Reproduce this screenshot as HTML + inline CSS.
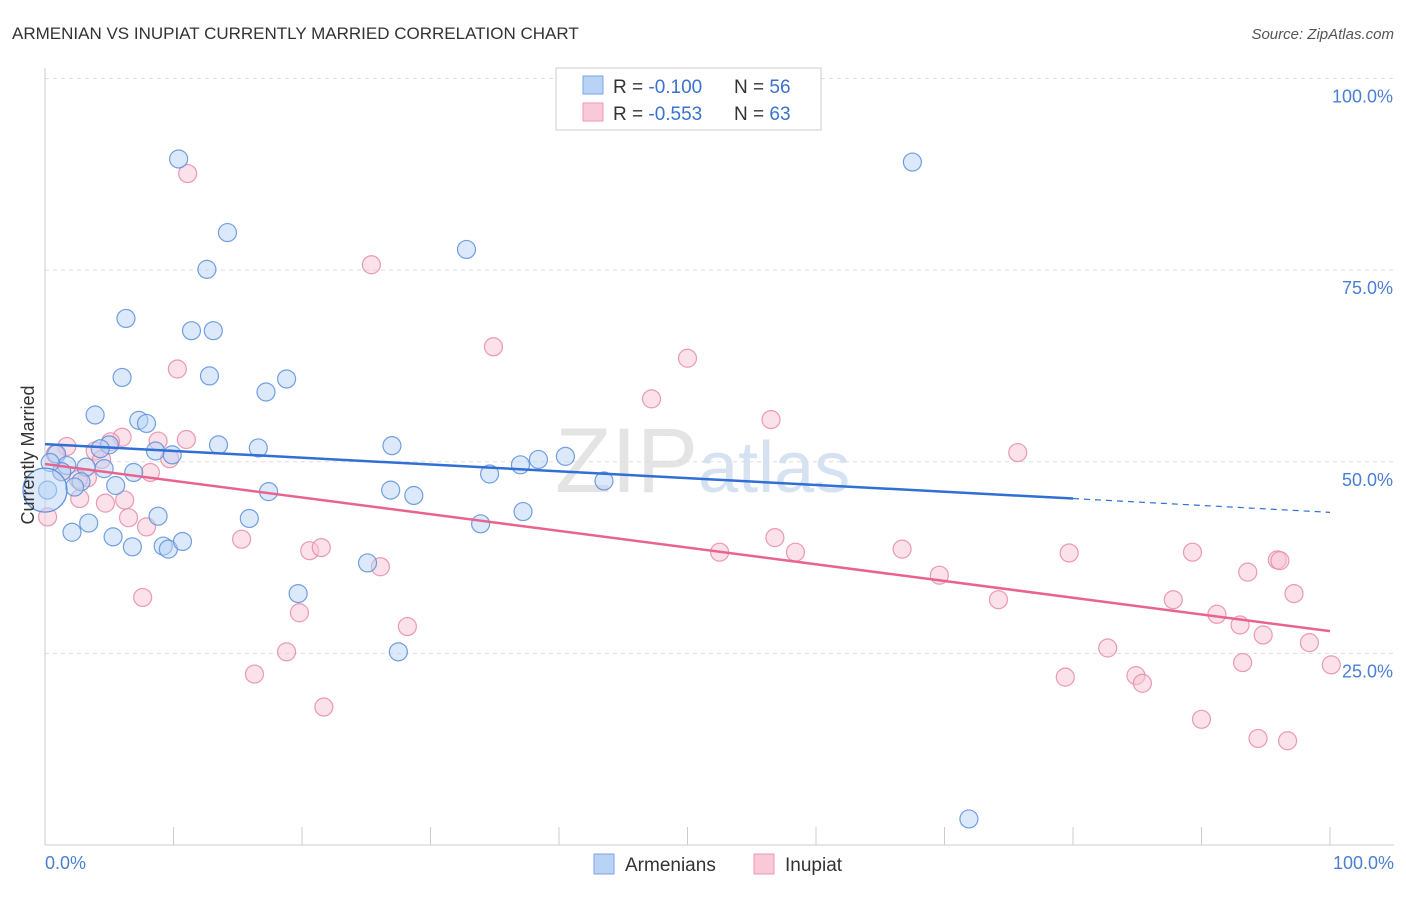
<!DOCTYPE html>
<html><head><meta charset="utf-8"><style>
body{margin:0;background:#fff;font-family:"Liberation Sans",sans-serif}
svg text{font-family:"Liberation Sans",sans-serif}
</style></head><body>
<svg id="c" width="1406" height="892" xmlns="http://www.w3.org/2000/svg">
<text x="12" y="39" font-size="17" fill="#333">ARMENIAN VS INUPIAT CURRENTLY MARRIED CORRELATION CHART</text>
<text x="1394" y="39" font-size="15" fill="#555" text-anchor="end" font-style="italic">Source: ZipAtlas.com</text>
<text x="555" y="492" font-size="92" fill="#e4e4e4" font-family="Liberation Serif">ZIP<tspan fill="#d6e2f2" font-family="Liberation Sans" font-size="72">atlas</tspan></text>
<g id="grid"></g>
<g id="axes"></g>
<g id="pts"></g>
<g id="trend"></g>
<text x="0" y="0" font-size="18" fill="#333" text-anchor="middle" transform="translate(34 455) rotate(-90)">Currently Married</text>
<text x="45" y="869" font-size="18" fill="#4a7fd4">0.0%</text>
<text x="1394" y="869" font-size="18" fill="#4a7fd4" text-anchor="end">100.0%</text>
<g>
<rect x="556" y="68" width="265" height="62" fill="#fff" stroke="#ccc"/>
<rect x="583" y="76" width="20" height="18" fill="#b8d3f5" stroke="#7aa5e0"/>
<rect x="583" y="103" width="20" height="18" fill="#f9c9d8" stroke="#ec9ab5"/>
<text x="613" y="93" font-size="19" fill="#333">R = <tspan fill="#3b72d0">-0.100</tspan><tspan x="734">N = </tspan><tspan fill="#3b72d0">56</tspan></text>
<text x="613" y="120" font-size="19" fill="#333">R = <tspan fill="#3b72d0">-0.553</tspan><tspan x="734">N = </tspan><tspan fill="#3b72d0">63</tspan></text>
</g>
<g>
<rect x="594" y="854" width="20" height="20" fill="#b8d3f5" stroke="#7aa5e0"/>
<text x="625" y="871" font-size="19" fill="#333">Armenians</text>
<rect x="754" y="854" width="20" height="20" fill="#f9c9d8" stroke="#ec9ab5"/>
<text x="785" y="871" font-size="19" fill="#333">Inupiat</text>
</g>
</svg>
<script>
const yTicks=[25,50,75,100];
const xTicks=[0,10,20,30,40,50,60,70,80,90,100];
const blueX=[10.4,67.5,14.2,12.6,32.8,6.3,11.4,13.1,6.0,12.8,18.8,17.2,3.9,7.3,7.9,13.5,16.6,27.0,8.6,9.9,5.0,4.3,0.9,1.7,3.2,1.3,4.6,6.9,2.8,2.3,5.5,34.6,37.0,38.4,40.5,43.5,17.4,26.9,28.7,15.9,8.8,3.4,2.1,33.9,37.2,5.3,6.8,9.2,9.6,10.7,25.1,19.7,27.5,71.9,0.4,0.2];
const blueY=[89.5,89.1,79.9,75.1,77.7,68.7,67.1,67.1,61.0,61.2,60.8,59.1,56.1,55.4,55.0,52.2,51.8,52.1,51.4,50.9,52.2,51.7,51.0,49.5,49.3,48.7,49.1,48.6,47.4,46.7,46.9,48.4,49.6,50.3,50.7,47.5,46.1,46.3,45.6,42.6,42.9,42.0,40.8,41.9,43.5,40.2,38.9,39.0,38.6,39.6,36.8,32.8,25.2,3.4,49.9,46.3];
const pinkX=[11.1,25.4,34.9,50.0,10.3,47.2,56.5,75.7,1.7,6.0,5.1,11.0,8.8,3.9,4.4,9.7,8.2,3.3,2.6,2.7,6.2,4.7,6.5,7.9,15.3,20.6,21.5,52.5,56.8,58.4,66.7,79.7,89.3,95.9,96.1,93.6,26.1,69.6,7.6,74.2,87.8,97.2,19.8,91.2,28.2,93.0,94.8,98.4,18.8,82.7,100.1,93.2,16.3,79.4,84.9,85.4,21.7,90.0,94.4,96.7,0.2,0.8,1.3];
const pinkY=[87.6,75.7,65.0,63.5,62.1,58.2,55.5,51.2,52.0,53.2,52.6,52.9,52.7,51.4,50.3,50.4,48.6,47.9,47.7,45.2,45.0,44.6,42.7,41.5,39.9,38.4,38.8,38.2,40.1,38.2,38.6,38.1,38.2,37.2,37.1,35.6,36.3,35.2,32.3,32.0,32.0,32.8,30.3,30.1,28.5,28.7,27.4,26.4,25.2,25.7,23.5,23.8,22.3,21.9,22.1,21.1,18.0,16.4,13.9,13.6,42.8,51.0,48.7];
const blueTrend=[52.3,45.2,43.4];
const pinkTrend=[49.7,27.9];
const X=v=>45+v*12.85, Y=v=>845-v*7.665;
const NS="http://www.w3.org/2000/svg";
function mk(p,t,a){const e=document.createElementNS(NS,t);for(const k in a)e.setAttribute(k,a[k]);document.getElementById(p).appendChild(e);return e;}
yTicks.forEach(t=>{
 const l=mk('grid','line',{x1:45,x2:1394,y1:Y(t),y2:Y(t),stroke:'#ddd','stroke-dasharray':'4,4'});
 
 
 const tx=mk('grid','text',{x:1393,y:Y(t)+24,'font-size':18,fill:'#4a7fd4','text-anchor':'end'});
 tx.textContent=t.toFixed(1)+'%';
 
 
});
mk('axes','line',{x1:45,x2:45,y1:68,y2:845,stroke:'#ccc'});
mk('axes','line',{x1:45,x2:1394,y1:845,y2:845,stroke:'#ccc'});
xTicks.forEach(t=>{
 const l=mk('axes','line',{x1:X(t),x2:X(t),y1:827,y2:845,stroke:'#ccc'});
 
 
});
function pts(xs,ys,f,s,name){xs.forEach((x,i)=>{
 const c=mk('pts','circle',{cx:X(x),cy:Y(ys[i]),r:9,fill:f,'fill-opacity':0.5,stroke:s,'stroke-width':1.2,'stroke-opacity':0.85});
 
 
});}
pts(pinkX,pinkY,'#f8c3d4','#e88aa8','inupiat-point');
pts(blueX,blueY,'#b8d3f5','#5b8fdc','armenian-point');
const big=mk('pts','circle',{cx:X(0),cy:Y(46.3),r:22,fill:'#b8d3f5','fill-opacity':0.5,stroke:'#5b8fdc','stroke-width':1.2});


const b1=mk('trend','line',{x1:X(0),y1:Y(blueTrend[0]),x2:X(80),y2:Y(blueTrend[1]),stroke:'#2f6fd6','stroke-width':2.5});


const b2=mk('trend','line',{x1:X(80),y1:Y(blueTrend[1]),x2:X(100),y2:Y(blueTrend[2]),stroke:'#2f6fd6','stroke-width':1.2,'stroke-dasharray':'6,5'});


const p1=mk('trend','line',{x1:X(0),y1:Y(pinkTrend[0]),x2:X(100),y2:Y(pinkTrend[1]),stroke:'#e8648f','stroke-width':2.5});


</script>
</body></html>
